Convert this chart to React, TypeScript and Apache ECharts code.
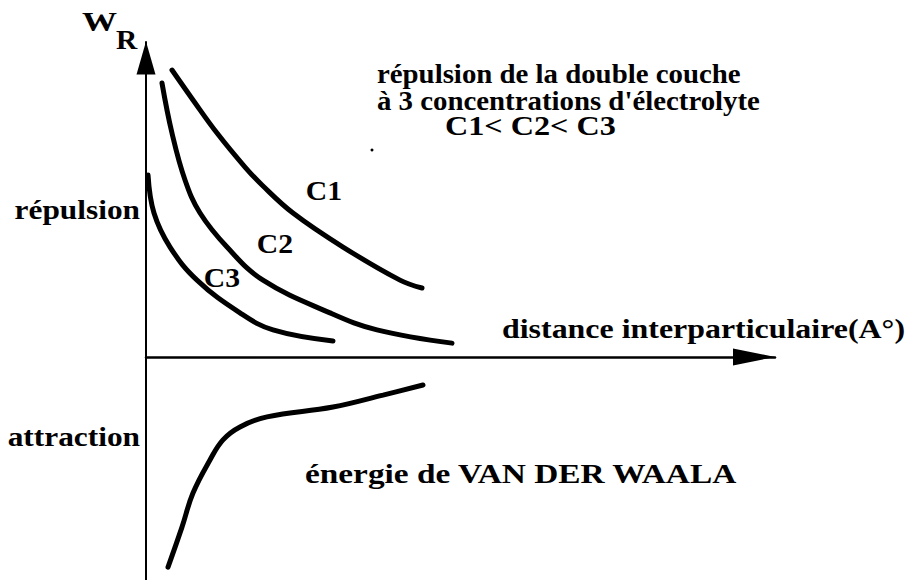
import React, { useEffect, useRef } from "react";
import * as echarts from "echarts";

// Schematic curves: [distance, energy]
const curveC1: number[][] = [
  [4.13, 9.11], [7.47, 8.16], [11.29, 7.11], [15.74, 6.03], [18.44, 5.46],
  [23.37, 4.57], [31.32, 3.49], [40.38, 2.44], [43.88, 2.19],
];
const curveC2: number[][] = [
  [2.54, 8.7], [4.13, 7.11], [6.2, 5.62], [8.59, 4.57], [12.88, 3.49],
  [18.6, 2.44], [29.25, 1.4], [36.72, 0.86], [48.65, 0.44],
];
const curveC3: number[][] = [
  [0.32, 5.78], [1.27, 4.57], [3.82, 3.49], [8.11, 2.44], [14.94, 1.4],
  [20.19, 0.86], [29.73, 0.51],
];
const curveVdW: number[][] = [
  [3.5, -6.67], [5.72, -5.4], [7.47, -4.32], [10.17, -3.27], [12.24, -2.63],
  [14.94, -2.22], [19.24, -1.9], [29.73, -1.59], [37.68, -1.21], [44.04, -0.89],
];

const curveNames = ["C1", "C2", "C3", "VdW"];
const titleLines = [
  "répulsion de la double couche",
  "à 3 concentrations d'électrolyte",
  "C1< C2< C3",
];
const xAxisLabel = "distance interparticulaire(A°)";
const vdwLabel = "énergie de VAN DER WAALA";
const yLabelTop = "répulsion";
const yLabelBottom = "attraction";

const FONT = '"Liberation Serif", "Times New Roman", serif';
const font = (s: number) => `bold ${s}px ${FONT}`;

function txt(
  text: string,
  x: number,
  y: number,
  size: number,
  sx = 1,
  align = "left",
  lineHeight?: number
) {
  return {
    type: "text",
    x,
    y,
    scaleX: sx,
    silent: true,
    style: {
      text,
      font: font(size),
      fill: "#000",
      align,
      verticalAlign: "middle",
      textAlign: align,
      textVerticalAlign: "middle",
      lineHeight,
    },
  };
}

export default function App() {
  const ref = useRef<HTMLDivElement>(null);
  useEffect(() => {
    if (!ref.current) return;
    const chart = echarts.init(ref.current, undefined, { renderer: "svg" });
    const lineSeries = (name: string, data: number[][]) => ({
      name,
      type: "line",
      data,
      smooth: 0.4,
      symbol: "none",
      lineStyle: { color: "#000", width: 5, cap: "round" },
      z: 5,
    });
    chart.setOption({
      animation: false,
      backgroundColor: "#fff",
      grid: { left: 146, right: 137, top: 42, bottom: 0, containLabel: false },
      xAxis: {
        type: "value",
        min: 0,
        max: 100,
        axisLine: {
          show: true,
          onZero: true,
          lineStyle: { color: "#000", width: 2.5 },
          symbol: ["none", "triangle"],
          symbolSize: [17, 42],
          symbolOffset: [0, -21],
        },
        axisTick: { show: false },
        axisLabel: { show: false },
        splitLine: { show: false },
      },
      yAxis: {
        type: "value",
        min: -7.08,
        max: 10,
        axisLine: {
          show: true,
          onZero: true,
          lineStyle: { color: "#000", width: 2 },
          symbol: ["none", "triangle"],
          symbolSize: [19, 33],
          symbolOffset: [0, -16],
        },
        axisTick: { show: false },
        axisLabel: { show: false },
        splitLine: { show: false },
      },
      series: [
        lineSeries(curveNames[0], curveC1),
        lineSeries(curveNames[1], curveC2),
        lineSeries(curveNames[2], curveC3),
        lineSeries(curveNames[3], curveVdW),
      ],
      graphic: [
        txt("W", 82, 22, 28, 1.25),
        txt("R", 116, 39, 28, 1.05),
        txt(titleLines[0] + "\n" + titleLines[1], 377, 87, 28, 1.03, "left", 27),
        txt(titleLines[2], 445, 126, 28, 1.15),
        txt(xAxisLabel, 502, 328, 28, 1.14),
        txt(vdwLabel, 305, 474, 28, 1.19),
        txt(yLabelTop, 140, 210, 28, 1.12, "right"),
        txt(yLabelBottom, 140, 437, 28, 1.12, "right"),
        txt("C1", 324, 190, 28, 1.06, "center"),
        txt("C2", 275, 243, 28, 1.06, "center"),
        txt("C3", 222, 277, 28, 1.06, "center"),
        { type: "circle", shape: { cx: 372, cy: 150, r: 1.5 }, style: { fill: "#000" }, silent: true },
      ],
    });
    return () => chart.dispose();
  }, []);
  return (
    <div
      ref={ref}
      style={{ position: "fixed", left: 0, top: 0, width: 912, height: 580, background: "#fff" }}
    />
  );
}
